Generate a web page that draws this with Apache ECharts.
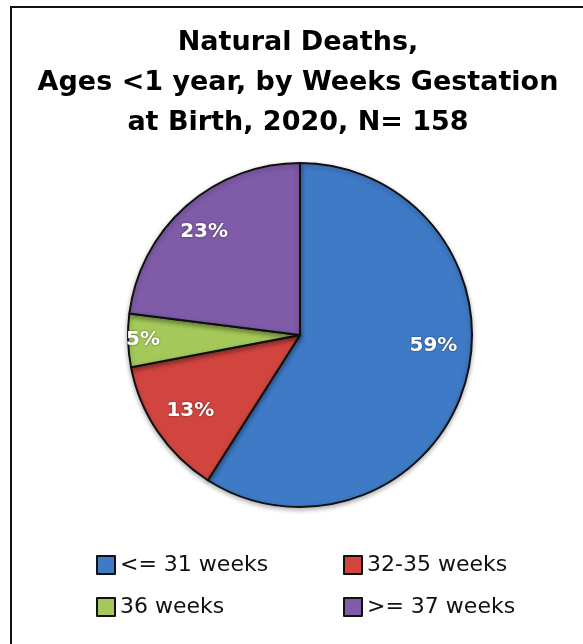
<!DOCTYPE html>
<html><head><meta charset="utf-8">
<script src="https://cdn.jsdelivr.net/npm/echarts@6/dist/echarts.min.js"></script>
<style>html,body{margin:0;padding:0;background:#fff}#c{width:583px;height:644px}</style>
</head><body><div id="c"></div>
<script>
var categories = ['<= 31 weeks', '32-35 weeks', '36 weeks', '>= 37 weeks'];
var values = [59, 13, 5, 23];
var colors = ['#3F7AC6', '#D2453F', '#A4C95A', '#7F5BA8'];
var labelOffsets = [[48, -14], [-36, 26], [-68, 2], [-37, -36]];
var titleText = 'Natural Deaths,\nAges <1 year, by Weeks Gestation\nat Birth, 2020, N= 158';

var chart = echarts.init(document.getElementById('c'), null, {renderer: 'canvas'});
var data = categories.map(function (c, i) {
  return {
    name: c, value: values[i],
    itemStyle: {color: colors[i]},
    label: {offset: labelOffsets[i]}
  };
});
var legendText = {fontFamily: 'DejaVu Sans', fontSize: 22, lineHeight: 20, color: '#111'};
var legendCommon = {
  orient: 'vertical', top: 554, itemWidth: 18, itemHeight: 18, itemGap: 20, icon: 'rect',
  itemStyle: {borderColor: '#111', borderWidth: 2}, textStyle: legendText, selectedMode: false, padding: 0
};
chart.setOption({
  animation: false,
  graphic: [{
    type: 'rect', shape: {x: 11, y: 7, width: 640, height: 700},
    style: {fill: 'none', stroke: '#111', lineWidth: 2}
  }, {
    type: 'text', x: 298, y: 23,
    style: {
      text: titleText, align: 'center', verticalAlign: 'top',
      font: 'bold 27px "DejaVu Sans"', lineHeight: 40, fill: '#000'
    }
  }],
  legend: [
    Object.assign({data: [categories[0], categories[2]], left: 96}, legendCommon),
    Object.assign({data: [categories[1], categories[3]], left: 343}, legendCommon)
  ],
  series: [{
    type: 'pie', center: [300, 335], radius: [0, 172], startAngle: 90, clockwise: true,
    data: data, silent: true,
    itemStyle: {borderColor: '#111', borderWidth: 2, shadowBlur: 5, shadowColor: 'rgba(0,0,0,0.3)', shadowOffsetY: 2},
    label: {
      position: 'inside', formatter: '{c}%', color: '#fff', fontFamily: 'DejaVu Sans', fontWeight: 'bold',
      fontSize: 20, textShadowColor: 'rgba(0,0,0,0.6)', textShadowBlur: 2
    },
    labelLine: {show: false}
  }]
});
</script></body></html>
